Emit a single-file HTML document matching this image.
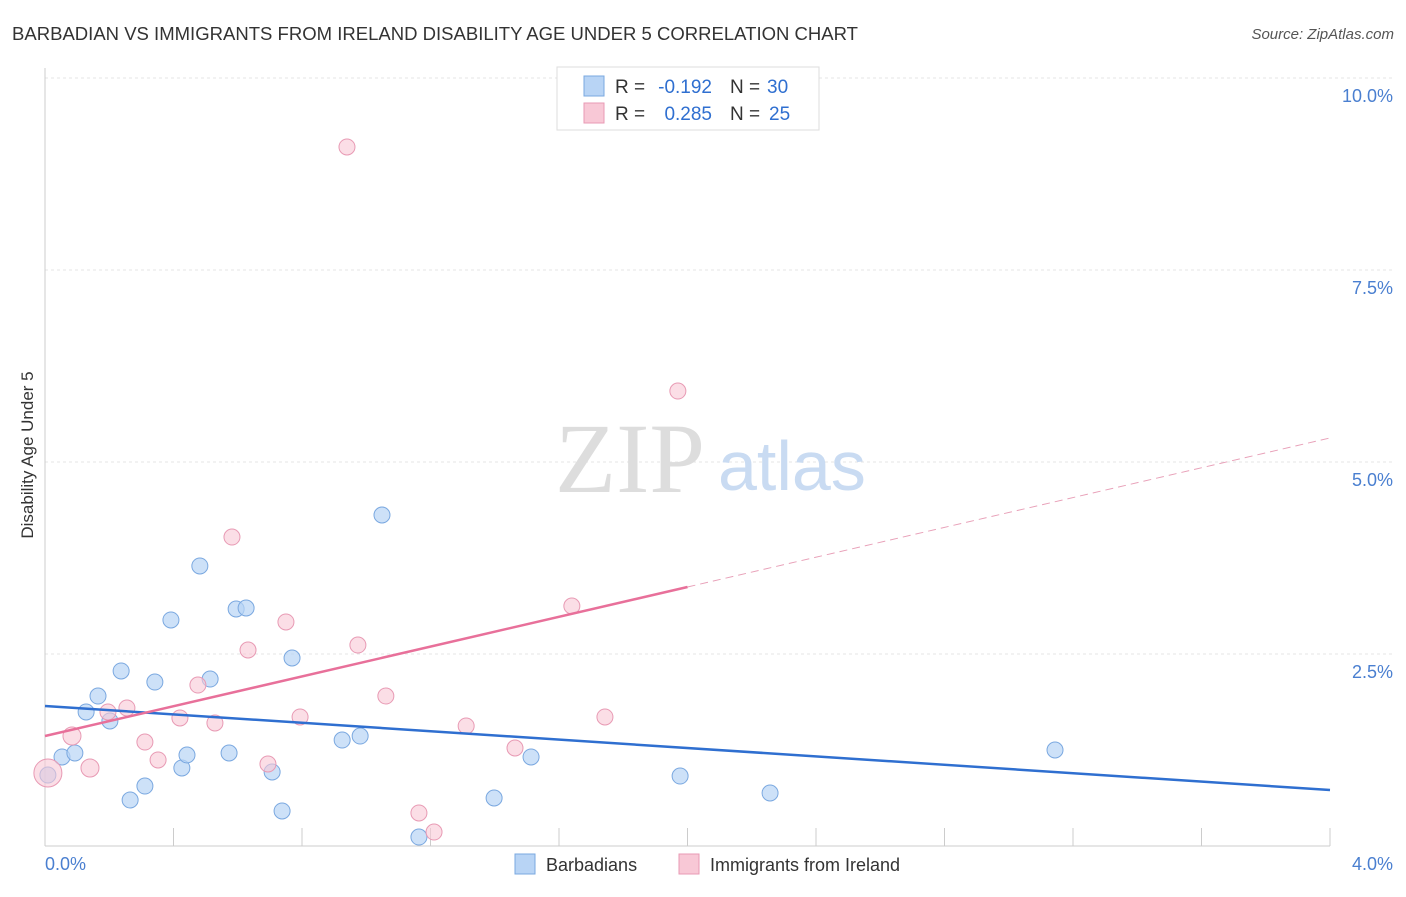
<!DOCTYPE html>
<html><head><meta charset="utf-8"><style>
body{margin:0;background:#fff;font-family:"Liberation Sans",sans-serif;}
</style></head><body>
<svg width="1406" height="892" xmlns="http://www.w3.org/2000/svg" font-family="Liberation Sans, sans-serif">
<text x="12" y="40" font-size="18" fill="#333" textLength="846" lengthAdjust="spacingAndGlyphs">BARBADIAN VS IMMIGRANTS FROM IRELAND DISABILITY AGE UNDER 5 CORRELATION CHART</text>
<text x="1394" y="39" font-size="15" fill="#555" font-style="italic" text-anchor="end">Source: ZipAtlas.com</text>
<g id="grid"></g>
<g id="axes"></g>
<text x="33" y="455" font-size="17" fill="#333" text-anchor="middle" transform="rotate(-90 33 455)">Disability Age Under 5</text>
<text x="555" y="492" font-size="100" fill="#ddd" font-family="Liberation Serif, serif">ZIP</text>
<text x="718" y="490" font-size="70" fill="#c9dbf2">atlas</text>
<g id="marks"></g>
<g>
<rect x="557" y="67" width="262" height="63" fill="#fff" stroke="#ddd"/>
<rect x="584" y="76" width="20" height="20" fill="#b8d4f5" stroke="#7aa8e0"/>
<rect x="584" y="103" width="20" height="20" fill="#f8c8d6" stroke="#e89ab4"/>
<text x="615" y="93" font-size="19" fill="#333">R =</text>
<text x="712" y="93" font-size="19" fill="#2f6fd0" text-anchor="end">-0.192</text>
<text x="730" y="93" font-size="19" fill="#333">N =</text>
<text x="767" y="93" font-size="19" fill="#2f6fd0">30</text>
<text x="615" y="120" font-size="19" fill="#333">R =</text>
<text x="712" y="120" font-size="19" fill="#2f6fd0" text-anchor="end">0.285</text>
<text x="730" y="120" font-size="19" fill="#333">N =</text>
<text x="769" y="120" font-size="19" fill="#2f6fd0">25</text>
</g>
<g>
<rect x="515" y="854" width="20" height="20" fill="#b8d4f5" stroke="#7aa8e0"/>
<text x="546" y="871" font-size="18" fill="#333">Barbadians</text>
<rect x="679" y="854" width="20" height="20" fill="#f8c8d6" stroke="#e89ab4"/>
<text x="710" y="871" font-size="18" fill="#333">Immigrants from Ireland</text>
</g>
</svg>
<script>
const yTicks=[2.5,5.0,7.5,10.0];
const xTickLabels=["0.0%","4.0%"];
const blueX=[0.009,0.053,0.093,0.128,0.165,0.202,0.237,0.265,0.311,0.342,0.392,0.426,0.442,0.482,0.514,0.573,0.595,0.626,0.707,0.738,0.769,0.925,0.981,1.049,1.164,1.398,1.513,1.977,2.257,3.144];
const blueY=[0.924,1.159,1.211,1.745,1.953,1.628,2.279,0.599,0.781,2.135,2.943,1.016,1.185,3.646,2.174,1.211,3.086,3.099,0.964,0.456,2.448,1.380,1.432,4.310,0.117,0.625,1.159,0.911,0.690,1.250];
const pinkX=[0.009,0.084,0.140,0.196,0.255,0.311,0.352,0.420,0.476,0.529,0.582,0.632,0.694,0.750,0.794,0.940,0.974,1.061,1.164,1.211,1.311,1.463,1.640,1.743,1.970];
const pinkY=[0.951,1.432,1.016,1.745,1.797,1.354,1.120,1.667,2.096,1.602,4.023,2.552,1.068,2.917,1.680,9.102,2.617,1.953,0.430,0.182,1.563,1.276,3.125,1.680,5.924];
const pinkR=[14,9,9,8,8,8,8,8,8,8,8,8,8,8,8,8,8,8,8,8,8,8,8,8,8];
const blueTrend=[1.823,0.729];
const pinkTrend=[1.432,5.313];
const pinkSolidEnd=2.0;
const NS="http://www.w3.org/2000/svg";
const X=v=>45+v*321.25, Y=v=>846-v*76.8;
function mk(t,a,p){const e=document.createElementNS(NS,t);for(const k in a)e.setAttribute(k,a[k]);p.appendChild(e);return e;}
const grid=document.getElementById('grid'),axes=document.getElementById('axes'),marks=document.getElementById('marks');
yTicks.forEach(t=>{
 const l=mk('line',{x1:45,x2:1395,y1:Y(t),y2:Y(t),stroke:'#e4e4e4','stroke-dasharray':'3,3'},grid);
 
 
 const tx=mk('text',{x:1393,y:Y(t)+24,'font-size':18,fill:'#4a7fd0','text-anchor':'end'},grid);
 tx.textContent=t.toFixed(1)+'%';
 
 
});
mk('line',{x1:45,x2:45,y1:68,y2:846,stroke:'#ccc'},axes);
mk('line',{x1:45,x2:1330,y1:846,y2:846,stroke:'#ccc'},axes);
for(let i=1;i<=10;i++){const l=mk('line',{x1:X(i*0.4),x2:X(i*0.4),y1:828,y2:846,stroke:'#ccc'},axes);
 
 }
[0,4].forEach((v,i)=>{const t=mk('text',{x:i?1393:45,y:870,'font-size':18,fill:'#4a7fd0','text-anchor':i?'end':'start'},axes);t.textContent=xTickLabels[i];
 
 });
blueX.forEach((x,i)=>{const c=mk('circle',{cx:X(x),cy:Y(blueY[i]),r:8,fill:'#b8d4f5','fill-opacity':0.7,stroke:'#7aa8e0'},marks);
 
 });
pinkX.forEach((x,i)=>{const c=mk('circle',{cx:X(x),cy:Y(pinkY[i]),r:pinkR[i],fill:'#f8c8d6','fill-opacity':0.6,stroke:'#e89ab4'},marks);
 
 });
const bl=mk('line',{x1:X(0),y1:Y(blueTrend[0]),x2:X(4),y2:Y(blueTrend[1]),stroke:'#2f6fd0','stroke-width':2.5},marks);


const pAt=x=>pinkTrend[0]+(pinkTrend[1]-pinkTrend[0])*x/4;
const pl=mk('line',{x1:X(0),y1:Y(pAt(0)),x2:X(pinkSolidEnd),y2:Y(pAt(pinkSolidEnd)),stroke:'#e8709a','stroke-width':2.5},marks);


const pd=mk('line',{x1:X(pinkSolidEnd),y1:Y(pAt(pinkSolidEnd)),x2:X(4),y2:Y(pAt(4)),stroke:'#e8a0b8','stroke-width':1,'stroke-dasharray':'8,5'},marks);


</script>
</body></html>
